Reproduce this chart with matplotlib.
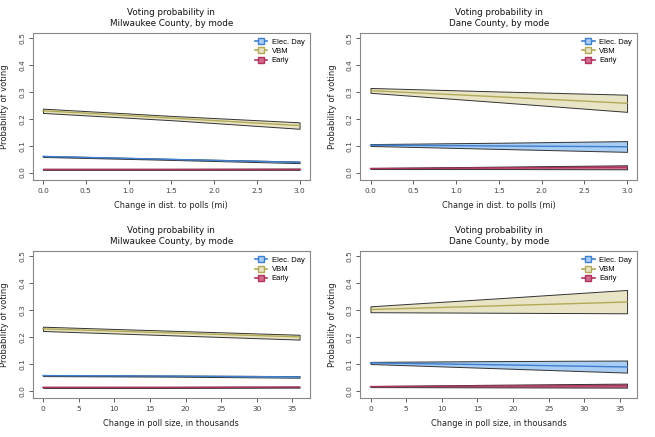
import numpy as np
import matplotlib.pyplot as plt
from matplotlib.lines import Line2D

# x grids (read at start, middle, end)
dist_x = [0.0, 1.5, 3.0]
size_x = [0, 18, 36]

# Milwaukee, distance
mke_dist_vbm = [0.230, 0.203, 0.175]
mke_dist_vbm_lo = [0.222, 0.195, 0.163]
mke_dist_vbm_hi = [0.238, 0.211, 0.187]
mke_dist_ed = [0.060, 0.049, 0.038]
mke_dist_ed_lo = [0.058, 0.047, 0.035]
mke_dist_ed_hi = [0.062, 0.051, 0.041]
mke_dist_ea = [0.012, 0.012, 0.012]
mke_dist_ea_lo = [0.010, 0.010, 0.010]
mke_dist_ea_hi = [0.014, 0.014, 0.015]

# Dane, distance
dane_dist_vbm = [0.305, 0.282, 0.258]
dane_dist_vbm_lo = [0.297, 0.262, 0.226]
dane_dist_vbm_hi = [0.315, 0.302, 0.290]
dane_dist_ed = [0.102, 0.099, 0.096]
dane_dist_ed_lo = [0.099, 0.088, 0.077]
dane_dist_ed_hi = [0.106, 0.111, 0.117]
dane_dist_ea = [0.015, 0.017, 0.020]
dane_dist_ea_lo = [0.013, 0.013, 0.012]
dane_dist_ea_hi = [0.017, 0.022, 0.027]

# Milwaukee, poll size
mke_size_vbm = [0.230, 0.215, 0.200]
mke_size_vbm_lo = [0.222, 0.206, 0.190]
mke_size_vbm_hi = [0.238, 0.223, 0.208]
mke_size_ed = [0.056, 0.054, 0.051]
mke_size_ed_lo = [0.054, 0.052, 0.048]
mke_size_ed_hi = [0.058, 0.056, 0.054]
mke_size_ea = [0.012, 0.012, 0.013]
mke_size_ea_lo = [0.010, 0.010, 0.011]
mke_size_ea_hi = [0.014, 0.014, 0.015]

# Dane, poll size
dane_size_vbm = [0.302, 0.316, 0.330]
dane_size_vbm_lo = [0.292, 0.290, 0.288]
dane_size_vbm_hi = [0.314, 0.344, 0.375]
dane_size_ed = [0.103, 0.096, 0.088]
dane_size_ed_lo = [0.099, 0.083, 0.067]
dane_size_ed_hi = [0.107, 0.110, 0.112]
dane_size_ea = [0.015, 0.017, 0.018]
dane_size_ea_lo = [0.013, 0.012, 0.011]
dane_size_ea_hi = [0.017, 0.022, 0.026]

modes = ['Elec. Day', 'VBM', 'Early']
line_cols = ['#3d7fd0', '#b3aa55', '#b2325e']
fill_cols = ['#a9cdf3', '#e9e4c6', '#d06b8c']

panels = [
    ('Voting probability in\nMilwaukee County, by mode', 'Change in dist. to polls (mi)', dist_x,
     [(mke_dist_ed, mke_dist_ed_lo, mke_dist_ed_hi), (mke_dist_vbm, mke_dist_vbm_lo, mke_dist_vbm_hi),
      (mke_dist_ea, mke_dist_ea_lo, mke_dist_ea_hi)], [0.050, 0.588]),
    ('Voting probability in\nDane County, by mode', 'Change in dist. to polls (mi)', dist_x,
     [(dane_dist_ed, dane_dist_ed_lo, dane_dist_ed_hi), (dane_dist_vbm, dane_dist_vbm_lo, dane_dist_vbm_hi),
      (dane_dist_ea, dane_dist_ea_lo, dane_dist_ea_hi)], [0.550, 0.588]),
    ('Voting probability in\nMilwaukee County, by mode', 'Change in poll size, in thousands', size_x,
     [(mke_size_ed, mke_size_ed_lo, mke_size_ed_hi), (mke_size_vbm, mke_size_vbm_lo, mke_size_vbm_hi),
      (mke_size_ea, mke_size_ea_lo, mke_size_ea_hi)], [0.050, 0.089]),
    ('Voting probability in\nDane County, by mode', 'Change in poll size, in thousands', size_x,
     [(dane_size_ed, dane_size_ed_lo, dane_size_ed_hi), (dane_size_vbm, dane_size_vbm_lo, dane_size_vbm_hi),
      (dane_size_ea, dane_size_ea_lo, dane_size_ea_hi)], [0.550, 0.089]),
]

fig = plt.figure(figsize=(6.55, 4.37), dpi=100, facecolor='white')

for title, xlab, x, series, (left, bottom) in panels:
    ax = fig.add_axes([left, bottom, 0.423, 0.336])
    for (m, lo, hi), lc, fc in zip(series, line_cols, fill_cols):
        ax.fill_between(x, lo, hi, facecolor=fc, edgecolor='#333333', linewidth=0.7, zorder=2)
        ax.plot(x, m, color=lc, linewidth=1.0, zorder=3)
    xmax = x[-1]
    ax.set_xlim(-0.04 * xmax, xmax * 1.04)
    ax.set_ylim(-0.028, 0.519)
    if xmax == 3.0:
        ax.set_xticks(np.arange(0, 3.01, 0.5))
        ax.set_xticklabels(['0.0', '0.5', '1.0', '1.5', '2.0', '2.5', '3.0'])
    else:
        ax.set_xticks(np.arange(0, 36, 5))
    ax.set_yticks([0, 0.1, 0.2, 0.3, 0.4, 0.5])
    ax.set_yticklabels(['0.0', '0.1', '0.2', '0.3', '0.4', '0.5'], rotation=90, va='center')
    ax.tick_params(direction='out', length=3, width=0.6, labelsize=5.3, colors='#444444', pad=2.5)
    for s in ax.spines.values():
        s.set_color('#888888')
        s.set_linewidth(0.8)
    ax.set_title(title, fontsize=6.3, color='#111111', pad=5, linespacing=1.35)
    ax.set_xlabel(xlab, fontsize=5.9, color='#222222', labelpad=5)
    ax.set_ylabel('Probability of voting', fontsize=6.0, color='#222222')
    ax.yaxis.set_label_coords(-0.085, 0.5)
    handles = [Line2D([0], [0], color=lc, linewidth=1.2, marker='s', markersize=4,
                      markerfacecolor=fc, markeredgecolor=lc) for lc, fc in zip(line_cols, fill_cols)]
    ax.legend(handles, modes, loc='upper right', frameon=False,
              handlelength=1.6, handletextpad=0.6, labelspacing=0.25, borderaxespad=0.3,
              prop={'family': 'Liberation Sans', 'size': 5.5})

fig.savefig('out.png', dpi=100)
